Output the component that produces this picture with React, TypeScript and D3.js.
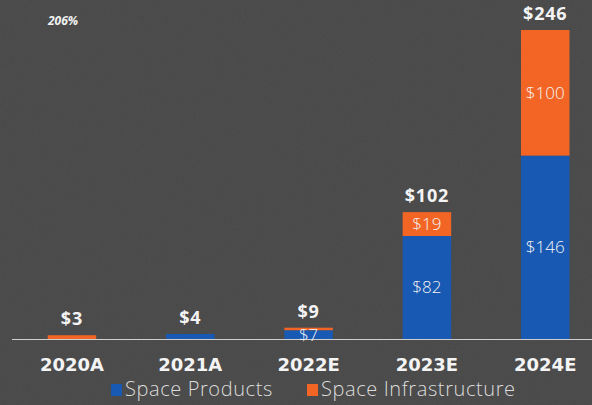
import React from 'react';
import * as d3 from 'd3';

const categories = ['2020A', '2021A', '2022E', '2023E', '2024E'];
const spaceProducts = [0, 4, 7, 82, 146];
const spaceInfrastructure = [3, 0, 2, 19, 100];
const totalLabels = ['$3', '$4', '$9', '$102', '$246'];
const productLabels = ['', '', '$7', '$82', '$146'];
const infraLabels = ['', '', '', '$19', '$100'];
const seriesNames = ['Space Products', 'Space Infrastructure'];

const W = 592;
const H = 405;
const BLUE = '#1859b3';
const ORANGE = '#f26524';
const FONT = '"Open Sans", "DejaVu Sans", sans-serif';

const App: React.FC = () => {
  const x = d3.scaleBand<string>()
    .domain(categories)
    .range([12.8, 604.4])
    .paddingInner(0.59)
    .paddingOuter(0.295);

  const y = d3.scaleLinear().domain([0, 246]).range([339, 30]);

  const rows = categories.map((c, i) => ({
    cat: c,
    products: spaceProducts[i],
    infra: spaceInfrastructure[i],
  }));
  const stacked = d3.stack<any>().keys(['products', 'infra'])(rows);
  const colors = [BLUE, ORANGE];
  const inner = [productLabels, infraLabels];
  const cx = (c: string) => (x(c) || 0) + x.bandwidth() / 2;

  return (
    <svg width={W} height={H} style={{ position: 'absolute', left: 0, top: 0, display: 'block' }}>
      <defs>
        <filter id="grain" x="0" y="0" width="100%" height="100%">
          <feTurbulence type="fractalNoise" baseFrequency="0.9" numOctaves={2} seed={3} />
          <feColorMatrix type="saturate" values="0" />
        </filter>
      </defs>
      <rect width={W} height={H} fill="#484848" />
      <rect width={W} height={H} filter="url(#grain)" opacity={0.06} />

      <text x={48} y={25} fill="#f2f2f2" fontSize={12} fontStyle="italic" fontWeight={700} fontFamily={FONT}>206%</text>

      {stacked.map((layer, li) => (
        <g key={layer.key}>
          {layer.map((d, i) => {
            const h = y(d[0]) - y(d[1]);
            if (h <= 0) return null;
            return (
              <rect key={i} x={x(categories[i])} y={y(d[1])} width={x.bandwidth()} height={h} fill={colors[li]} />
            );
          })}
        </g>
      ))}

      <line x1={12} x2={W} y1={y(0) + 0.5} y2={y(0) + 0.5} stroke="#cfcfcf" strokeWidth={1.2} />

      {stacked.map((layer, li) => (
        <g key={'l' + layer.key}>
          {layer.map((d, i) => inner[li][i] ? (
            <text key={i} x={cx(categories[i])} y={(y(d[0]) + y(d[1])) / 2}
              dy="0.35em" textAnchor="middle" fill="#f4f4f4" fontSize={17} fontWeight={300} fontFamily={FONT}>
              {inner[li][i]}
            </text>
          ) : null)}
        </g>
      ))}

      {categories.map((c, i) => (
        <text key={c} x={cx(c)} y={y(spaceProducts[i] + spaceInfrastructure[i]) - 10}
          textAnchor="middle" fill="#f4f4f4" fontSize={18} fontWeight={700} letterSpacing={0.8} fontFamily={FONT}>
          {totalLabels[i]}
        </text>
      ))}

      {categories.map(c => (
        <text key={'x' + c} x={cx(c)} y={371}
          textAnchor="middle" fill="#f4f4f4" fontSize={18} fontWeight={700}
          fontFamily='"DejaVu Sans", sans-serif'>
          {c}
        </text>
      ))}

      <g fontFamily={FONT} fontSize={20} fontWeight={300} fill="#dcdcdc" letterSpacing={0.6}>
        <rect x={111} y={384} width={11} height={12} fill={BLUE} />
        <text x={125} y={396}>{seriesNames[0]}</text>
        <rect x={307} y={384} width={11} height={12} fill={ORANGE} />
        <text x={321} y={396}>{seriesNames[1]}</text>
      </g>
    </svg>
  );
};

export default App;
